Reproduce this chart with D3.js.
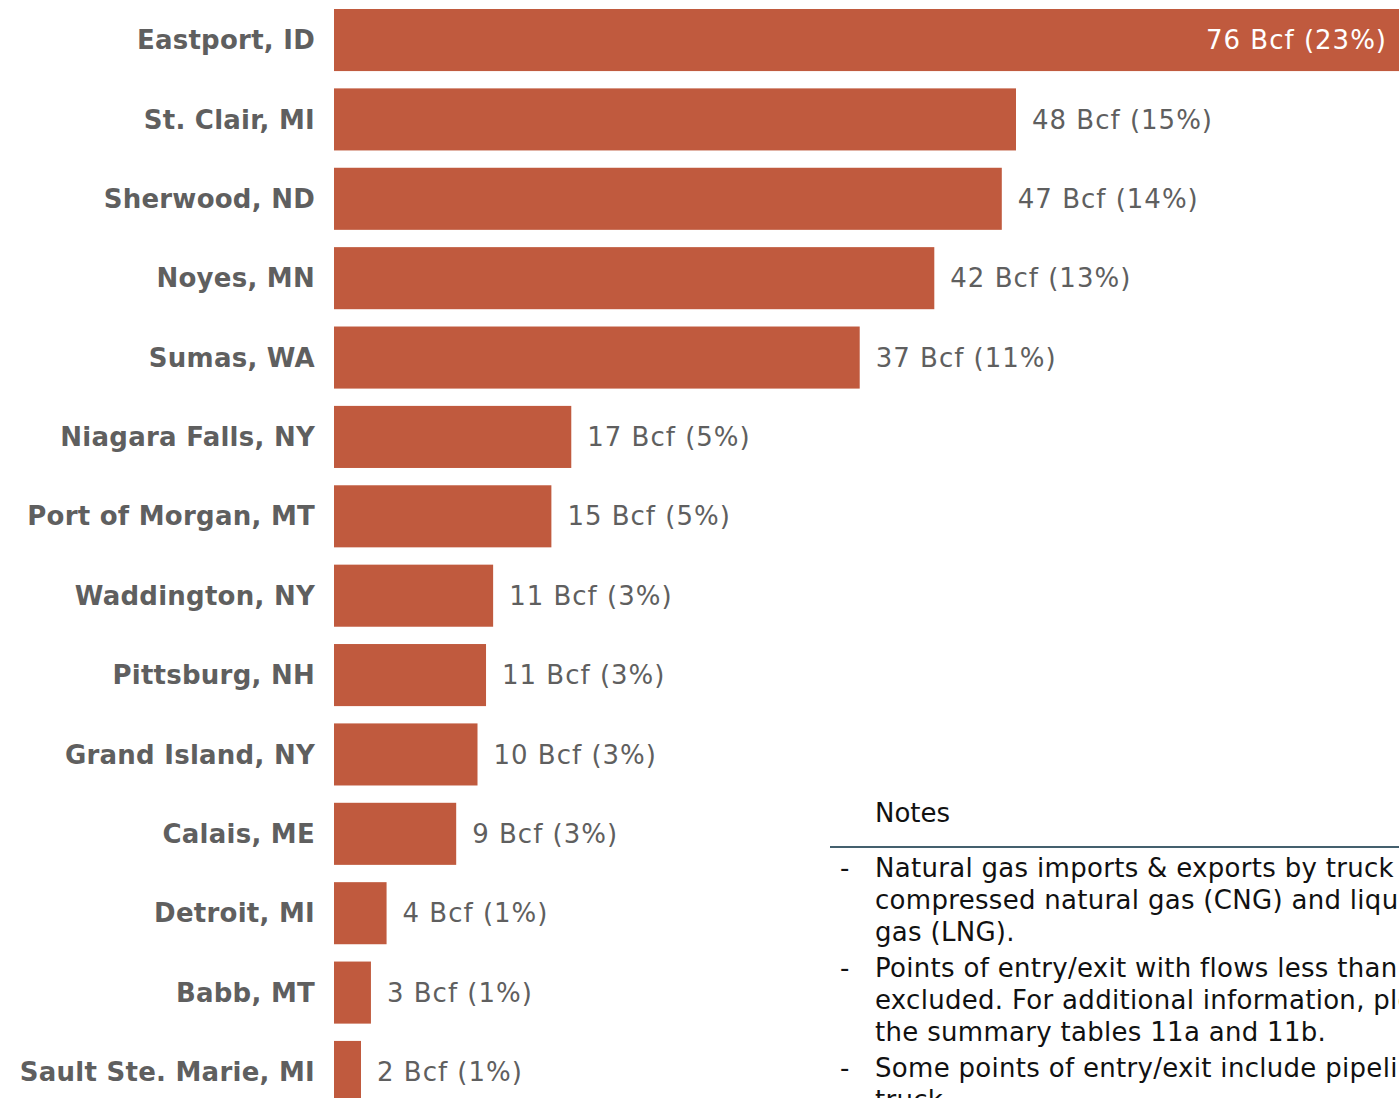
<!DOCTYPE html>
<html>
<head>
<meta charset="utf-8">
<script src="https://cdn.jsdelivr.net/npm/d3@7"></script>
<style>
html,body{margin:0;padding:0;overflow:hidden;background:#fff;}
svg{display:block;}
</style>
</head>
<body>
<svg id="chart" width="1399" height="1098"></svg>
<script>
const categories = ["Eastport, ID","St. Clair, MI","Sherwood, ND","Noyes, MN","Sumas, WA","Niagara Falls, NY","Port of Morgan, MT","Waddington, NY","Pittsburg, NH","Grand Island, NY","Calais, ME","Detroit, MI","Babb, MT","Sault Ste. Marie, MI"];
const values = [76, 48, 47, 42.25, 37.0, 16.7, 15.3, 11.2, 10.7, 10.1, 8.6, 3.7, 2.6, 1.9];
const valueLabels = ["76 Bcf (23%)","48 Bcf (15%)","47 Bcf (14%)","42 Bcf (13%)","37 Bcf (11%)","17 Bcf (5%)","15 Bcf (5%)","11 Bcf (3%)","11 Bcf (3%)","10 Bcf (3%)","9 Bcf (3%)","4 Bcf (1%)","3 Bcf (1%)","2 Bcf (1%)"];
const notesTitle = "Notes";
const notes = [
  ["Natural gas imports & exports by truck are", "compressed natural gas (CNG) and liquefied natural", "gas (LNG)."],
  ["Points of entry/exit with flows less than 1 Bcf are", "excluded. For additional information, please see", "the summary tables 11a and 11b."],
  ["Some points of entry/exit include pipeline and", "truck."]
];

const svg = d3.select("#chart");
const font = "DejaVu Sans, Verdana, sans-serif";
const barColor = "#C05A3E";
const grey = "#5F5F5F";

const x = d3.scaleLinear().domain([0, 48]).range([334, 1016]);
const y = d3.scaleBand().domain(categories).range([9, 1103]).paddingInner(0.218).paddingOuter(0);

const data = categories.map((c, i) => ({c, v: values[i], l: valueLabels[i]}));

svg.append("g").selectAll("rect").data(data).join("rect")
  .attr("x", x(0))
  .attr("y", d => y(d.c))
  .attr("width", d => x(d.v) - x(0))
  .attr("height", y.bandwidth())
  .attr("fill", barColor);

svg.append("g").selectAll("text").data(data).join("text")
  .attr("x", 315)
  .attr("y", d => y(d.c) + y.bandwidth() / 2)
  .attr("dy", "0.35em")
  .attr("text-anchor", "end")
  .attr("font-family", font)
  .attr("font-weight", "bold")
  .attr("font-size", 26)
  .attr("letter-spacing", 0.25)
  .attr("fill", grey)
  .text(d => d.c);

svg.append("g").selectAll("text").data(data).join("text")
  .attr("x", (d, i) => i === 0 ? 1387 : x(d.v) + 16)
  .attr("y", d => y(d.c) + y.bandwidth() / 2)
  .attr("dy", "0.35em")
  .attr("text-anchor", (d, i) => i === 0 ? "end" : "start")
  .attr("font-family", font)
  .attr("font-size", 26)
  .attr("letter-spacing", 1)
  .attr("fill", (d, i) => i === 0 ? "#FFFFFF" : grey)
  .text(d => d.l);

// Notes
const ng = svg.append("g");
ng.append("text").attr("x", 875).attr("y", 822).attr("font-family", font).attr("font-size", 26).attr("fill", "#111").text(notesTitle);
ng.append("line").attr("x1", 830).attr("x2", 1399).attr("y1", 847).attr("y2", 847).attr("stroke", "#44606E").attr("stroke-width", 2);
const lineStarts = [877, 977, 1077];
notes.forEach((block, bi) => {
  ng.append("text").attr("x", 840).attr("y", lineStarts[bi]).attr("font-family", font).attr("font-size", 26).attr("fill", "#111").text("-");
  block.forEach((ln, li) => {
    ng.append("text").attr("x", 875).attr("y", lineStarts[bi] + li * 32).attr("font-family", font).attr("font-size", 26).attr("letter-spacing", 0.3).attr("fill", "#111").text(ln);
  });
});
</script>
</body>
</html>
